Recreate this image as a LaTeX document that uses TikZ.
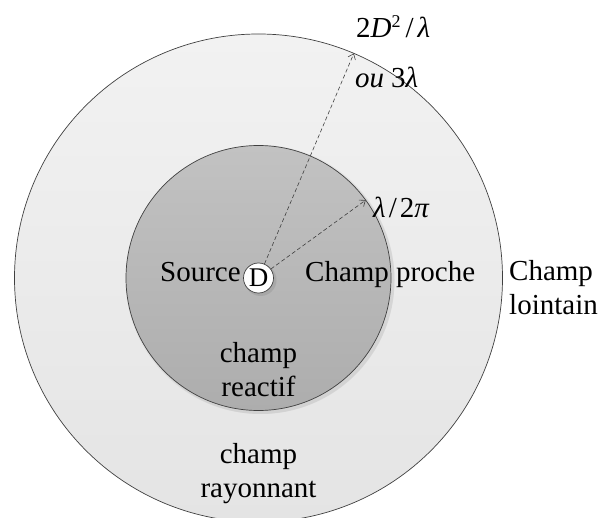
\documentclass[tikz,border=0pt]{standalone}
\usepackage{fontspec}
\setmainfont{Liberation Serif}
\usetikzlibrary{calc,arrows.meta}
\definecolor{linegrey}{HTML}{404040}
\definecolor{outertop}{HTML}{F2F2F2}
\definecolor{outerbot}{HTML}{E4E4E4}
\definecolor{innertop}{HTML}{C2C2C2}
\definecolor{innerbot}{HTML}{ADADAD}
\tikzset{
  lbl/.style={font=\fontsize{29}{34}\selectfont, inner sep=0pt, text=black},
  ray/.style={draw=linegrey, line width=0.6pt, dash pattern=on 4pt off 2.5pt,
    -{Straight Barb[length=5pt,width=8pt]}},
  zoneline/.style={draw=linegrey, line width=0.7pt},
}
\begin{document}
\begin{tikzpicture}[x=1pt,y=1pt]
\useasboundingbox (0,0) rectangle (599,517);
\coordinate (c) at (258.5,239);
% outer zone
\shadedraw[zoneline, top color=outertop, bottom color=outerbot] (c) circle (244);
% inner shadow
\fill[black, opacity=0.05] ($(c)+(2.5,-2.5)$) circle (133.5);
\fill[black, opacity=0.04] ($(c)+(1.5,-1.5)$) circle (134.5);
% inner zone
\shadedraw[zoneline, top color=innertop, bottom color=innerbot] (c) circle (132.5);
% source shadow
\fill[black, opacity=0.08] ($(c)+(2,-2)$) circle (16);
\node[circle, draw=linegrey, line width=0.7pt, fill=white, minimum size=30pt, inner sep=0pt,
      font=\fontsize{27}{30}\selectfont] (src) at (c) {\raisebox{-5pt}{D}};
% rays
\coordinate (far) at ($(c)+(67:244)$);
\coordinate (near) at ($(c)+(36:132.5)$);
\draw[ray] (src) -- (far);
\draw[ray] (src) -- (near);
% labels
\node[lbl, anchor=base west] (lfar) at (356,479) {2\textit{D}\raisebox{10pt}{\fontsize{18}{18}\selectfont 2}\hspace{5pt}/\hspace{4pt}\textit{λ}};
\node[lbl, anchor=base west] (lor) at (355,429) {\textit{ou}\hspace{7pt}3\textit{λ}};
\node[lbl, anchor=base west] (lnear) at (373,299) {\textit{λ}\hspace{3pt}/\hspace{3pt}2\textit{π}};
\node[lbl, anchor=base west] (lsrc) at (160,235) {Source};
\node[lbl, anchor=base west] (lproche) at (305,235) {Champ proche};
\node[lbl, align=left, anchor=west] (llointain) at (509,229) {Champ\\lointain};
\node[lbl, align=center] (lreactif) at (258.5,147) {champ\\reactif};
\node[lbl, align=center] (lrayon) at (258.5,43.5) {champ\\rayonnant};
\end{tikzpicture}
\end{document}
